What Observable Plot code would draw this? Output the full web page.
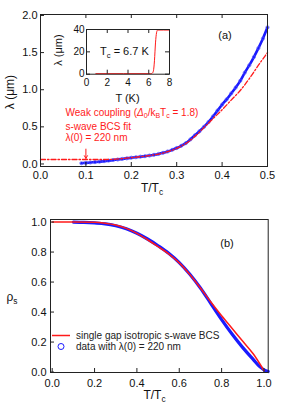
<!DOCTYPE html>
<html><head><meta charset="utf-8">
<script src="https://cdn.jsdelivr.net/npm/d3@7"></script>
<script src="https://cdn.jsdelivr.net/npm/@observablehq/plot@0.6"></script>
<style>
body{margin:0;background:#fff;}
#fig{position:relative;width:297px;height:409px;font-family:"Liberation Sans",Arial,sans-serif;color:#111;overflow:hidden;}
#fig svg{position:absolute;}
.lbl{position:absolute;white-space:nowrap;line-height:1;transform:translate(-50%,-50%);}
.lft{position:absolute;white-space:nowrap;line-height:1;transform:translate(0,-50%);}
.sub{font-size:0.7em;position:relative;top:0.35em;}
</style></head><body><div id="fig"></div>
<script>
// ---- data ----
const xTicksTop = [0, 0.1, 0.2, 0.3, 0.4, 0.5];
const yTicksTop = [0, 0.5, 1.0, 1.5, 2.0];
const xTicksInset = [0, 2, 4, 6, 8];
const yTicksInset = [0, 20, 40];
const xTicksBot = [0, 0.2, 0.4, 0.6, 0.8, 1.0];
const yTicksBot = [0, 0.2, 0.4, 0.6, 0.8, 1.0];

// (a) measured lambda (um) vs T/Tc
const dataT = [0.09,0.10,0.11,0.12,0.13,0.14,0.15,0.16,0.17,0.18,0.19,0.20,0.21,0.22,0.23,0.24,0.25,0.26,0.27,0.28,0.29,0.30,0.31,0.32,0.33,0.34,0.35,0.36,0.37,0.38,0.39,0.40,0.41,0.42,0.43,0.44,0.45,0.46,0.47,0.48,0.49,0.50];
const dataLambda = [0.01,0.015,0.02,0.025,0.03,0.038,0.045,0.053,0.06,0.068,0.076,0.084,0.091,0.098,0.105,0.113,0.123,0.135,0.15,0.168,0.19,0.215,0.245,0.28,0.33,0.385,0.44,0.5,0.565,0.64,0.72,0.8,0.87,0.95,1.03,1.12,1.23,1.33,1.44,1.56,1.69,1.84];
// (a) weak-coupling BCS fit
const fitT = [0,0.14,0.16,0.18,0.20,0.22,0.24,0.26,0.28,0.30,0.32,0.34,0.36,0.38,0.40,0.42,0.44,0.46,0.48,0.50];
const fitLambda = [0.06,0.06,0.063,0.072,0.085,0.098,0.113,0.133,0.165,0.21,0.275,0.37,0.49,0.61,0.73,0.86,0.99,1.15,1.33,1.5];
// arrow annotation
const arrowX = [0.1];
const arrowFrom = [0.2];
const arrowTo = [0.075];
// inset lambda vs T (K)
const insetT = [0.9,6.2,6.35,6.45,6.55,6.65,6.75,6.85,8.0];
const insetLambda = [0.5,0.5,1,3,12,28,37,39.5,39.5];
// (b) superfluid density
const rhoT = [0.10,0.15,0.20,0.25,0.30,0.35,0.40,0.45,0.50,0.55,0.60,0.65,0.70,0.75,0.80,0.85,0.90,0.95,0.98,1.00,1.02];
const rhoData = [1.0,0.998,0.994,0.988,0.975,0.955,0.925,0.887,0.842,0.792,0.73,0.652,0.56,0.455,0.35,0.252,0.163,0.083,0.036,0.015,0.003];
const bcsT = [0,0.1,0.2,0.25,0.3,0.35,0.4,0.45,0.5,0.55,0.6,0.65,0.7,0.75,0.8,0.85,0.9,0.95,1.0];
const bcsRho = [1.0,1.0,0.998,0.992,0.98,0.958,0.925,0.882,0.836,0.788,0.728,0.65,0.56,0.465,0.375,0.29,0.205,0.12,0.01];

const BLUE = "#1a1aff", RED = "#ff1a1a", INK = "#222";
const zip = (a, b) => a.map((v, i) => ({x: v, y: b[i]}));

function panel({width, height, ml, mr, mt, mb, xd, yd, xt, yt, mirrorX, mirrorY, fs, xpad, ypad, xf, yf, marks}) {
  const iw = width - ml - mr, ih = height - mt - mb, tl = 4;
  return Plot.plot({
    width, height, marginLeft: ml, marginRight: mr, marginTop: mt, marginBottom: mb,
    x: {domain: xd}, y: {domain: yd},
    style: {fontFamily: "Liberation Sans, Arial, sans-serif", fontSize: fs + "px", color: "#111", background: "transparent", overflow: "visible"},
    marks: [
      ...marks,
      Plot.frame({stroke: INK, strokeWidth: 1}),
      Plot.tickX(xt, {x: d => d, insetTop: ih - tl, stroke: INK}),
      mirrorX ? Plot.tickX(xt, {x: d => d, insetBottom: ih - tl, stroke: INK}) : null,
      Plot.tickY(yt, {y: d => d, insetRight: iw - tl, stroke: INK}),
      mirrorY ? Plot.tickY(yt, {y: d => d, insetLeft: iw - tl, stroke: INK}) : null,
      Plot.axisX(xt, {tickSize: 0, tickPadding: xpad, tickFormat: xf, label: null, fill: "#111"}),
      Plot.axisY(yt, {tickSize: 0, tickPadding: ypad, tickFormat: yf, label: null, fill: "#111"})
    ]
  });
}

const fig = document.getElementById("fig");
function place(svg, left, top) { svg.style.left = left + "px"; svg.style.top = top + "px"; fig.appendChild(svg); }
function label(html, cx, cy, size, extra = "") {
  const d = document.createElement("div");
  d.className = "lbl"; d.innerHTML = html;
  d.style.left = cx + "px"; d.style.top = cy + "px"; d.style.fontSize = size + "px";
  if (extra) d.style.cssText += extra;
  fig.appendChild(d); return d;
}
function leftLabel(html, x, cy, size, color) {
  const d = document.createElement("div");
  d.className = "lft"; d.innerHTML = html;
  d.style.left = x + "px"; d.style.top = cy + "px"; d.style.fontSize = size + "px"; d.style.color = color;
  fig.appendChild(d); return d;
}

// ---- panel (a) ----
const topPlot = panel({
  width: 297, height: 200, ml: 40, mr: 30, mt: 14, mb: 34,
  xd: [0, 0.5], yd: [-0.034, 2.013], xt: xTicksTop, yt: yTicksTop,
  mirrorX: true, mirrorY: false, fs: 11, xpad: 5, ypad: 3,
  xf: d3.format(".1f"), yf: d3.format(".1f"),
  marks: [
    Plot.line(zip(dataT, dataLambda), {x: "x", y: "y", stroke: BLUE, strokeWidth: 2.6, curve: "monotone-x"}),
    Plot.dot(zip(dataT, dataLambda), {x: "x", y: "y", stroke: "#5050ff", strokeWidth: 0.7, r: 1.6}),
    Plot.line(zip(fitT, fitLambda), {x: "x", y: "y", stroke: RED, strokeWidth: 1.3, strokeDasharray: "5,2,1.5,2", curve: "monotone-x"}),
    Plot.arrow(arrowX.map((x, i) => ({x, y1: arrowFrom[i], y2: arrowTo[i]})), {x: "x", y1: "y1", y2: "y2", stroke: RED, strokeWidth: 1, headLength: 5})
  ]
});
place(topPlot, 0, 0);

// ---- inset ----
const insetPlot = panel({
  width: 120, height: 90, ml: 30, mr: 7, mt: 9, mb: 36.3,
  xd: [0, 8], yd: [0, 40], xt: xTicksInset, yt: yTicksInset,
  mirrorX: true, mirrorY: true, fs: 10, xpad: 5, ypad: 2,
  xf: d3.format("d"), yf: d3.format("d"),
  marks: [
    Plot.line(zip(insetT, insetLambda), {x: "x", y: "y", stroke: RED, strokeWidth: 1, curve: "monotone-x"})
  ]
});
place(insetPlot, 56, 20);

// ---- panel (b) ----
const botPlot = panel({
  width: 297, height: 209, ml: 50, mr: 29.3, mt: 19, mb: 37,
  xd: [-0.008, 1.02], yd: [-0.003, 1.017], xt: xTicksBot, yt: yTicksBot,
  mirrorX: false, mirrorY: false, fs: 11, xpad: 7, ypad: 4,
  xf: d3.format(".1f"), yf: d3.format(".1f"),
  marks: [
    Plot.line(zip(rhoT, rhoData), {x: "x", y: "y", stroke: BLUE, strokeWidth: 3.2, curve: "monotone-x"}),
    Plot.line(zip(bcsT, bcsRho), {x: "x", y: "y", stroke: RED, strokeWidth: 1.5, curve: "monotone-x"})
  ]
});
place(botPlot, 0, 200);

// ---- text ----
const sub = s => `<span class="sub">${s}</span>`;
label("λ (μm)", 10, 92, 12, "transform:translate(-50%,-50%) rotate(-90deg);");
label(`T/T${sub("c")}`, 152, 188, 12);
label("(a)", 225, 35, 11);
label("λ (μm)", 57.5, 50, 11, "transform:translate(-50%,-50%) rotate(-90deg);");
label("T (K)", 127.5, 98, 11);
leftLabel(`T${sub("c")} = 6.7 K`, 100, 51, 11, "#111");
leftLabel(`Weak coupling (<i>Δ</i>${sub("0")}/k${sub("B")}T${sub("c")} = 1.8)`, 65.5, 113, 10, RED);
leftLabel("s-wave BCS fit", 65.5, 126.5, 10, RED);
leftLabel("λ(0) = 220 nm", 65.5, 138, 10, RED);

label(`ρ${sub("s")}`, 12, 297, 12);
label(`T/T${sub("c")}`, 154.5, 395, 12);
label("(b)", 227, 243, 11);
// legend
const leg = document.createElementNS("http://www.w3.org/2000/svg", "svg");
leg.setAttribute("width", 24); leg.setAttribute("height", 20);
leg.innerHTML = `<line x1="2" x2="20" y1="5.5" y2="5.5" stroke="${RED}" stroke-width="1.5"/><circle cx="11" cy="16.5" r="3" fill="none" stroke="${BLUE}" stroke-width="1"/>`;
leg.style.left = "50px"; leg.style.top = "330px";
fig.appendChild(leg);
leftLabel("single gap isotropic s-wave BCS", 76, 335.5, 10, "#222");
leftLabel("data with λ(0) = 220 nm", 76, 346.5, 10, "#222");
</script></body></html>
